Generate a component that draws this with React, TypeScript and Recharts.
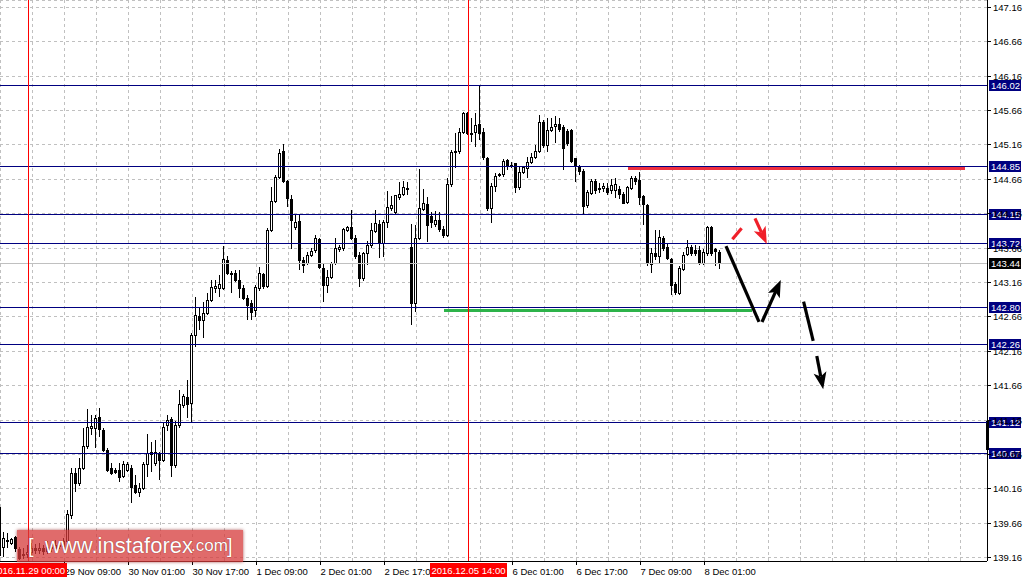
import { ComposedChart, Bar, XAxis, YAxis, CartesianGrid, ReferenceLine, ReferenceArea } from "recharts";

const FONT = "'Liberation Sans', Arial, sans-serif";
const Y_MIN = 139.112;
const Y_MAX = 147.266;
const X_MAX = 246.75;

// hourly USDJPY candles, index 0 = 28 Nov 17:00
const opens = [
  139.90, 139.31, 139.40, 139.37, 139.46, 139.28, 139.20, 139.22, 139.25, 139.30, 139.27, 139.30, 139.26, 139.32, 139.30, 139.35,
  139.33, 139.40, 139.78, 140.39, 140.24, 140.47, 140.78, 141.05, 141.04, 141.20, 141.02, 140.73, 140.46, 140.43, 140.43, 140.35,
  140.43, 140.46, 140.22, 140.12, 140.17, 140.52, 140.70, 140.54, 140.68, 140.58, 141.09, 141.17, 140.51, 141.09, 141.38, 141.50,
  141.41, 142.40, 142.67, 142.62, 142.72, 142.91, 143.08, 143.08, 143.08, 143.49, 143.30, 143.30, 143.20, 143.08, 142.93, 142.86,
  142.76, 143.08, 143.28, 143.11, 143.92, 144.34, 144.69, 145.07, 144.64, 144.37, 143.97, 144.05, 143.49, 143.44, 143.56, 143.63,
  143.79, 143.37, 143.12, 143.24, 143.44, 143.65, 143.66, 143.93, 143.96, 143.80, 143.56, 143.22, 143.59, 143.70, 143.91, 144.01,
  143.74, 144.04, 144.25, 144.18, 144.40, 144.45, 144.53, 143.68, 142.86, 143.81, 144.23, 144.30, 144.13, 144.01, 144.07, 143.94,
  143.85, 144.59, 145.05, 145.07, 145.35, 145.62, 145.33, 145.35, 145.46, 145.35, 144.97, 144.24, 144.56, 144.72, 144.74, 144.94,
  144.86, 144.90, 144.55, 144.77, 144.82, 144.91, 144.98, 145.07, 145.49, 145.16, 145.38, 145.43, 145.46, 145.42, 145.36, 145.38,
  144.97, 144.84, 144.78, 144.29, 144.46, 144.64, 144.53, 144.53, 144.53, 144.50, 144.50, 144.52, 144.45, 144.33, 144.53, 144.68,
  144.65, 144.42, 144.29, 143.43, 143.59, 143.54, 143.81, 143.67, 143.50, 143.14, 143.01, 143.36, 143.57, 143.67, 143.63, 143.63,
  143.44, 143.59, 143.97, 143.64, 143.60,
];
const highs = [
  139.95, 139.53, 139.52, 139.45, 139.48, 139.32, 139.30, 139.35, 139.38, 139.36, 139.37, 139.34, 139.40, 139.38, 139.42, 139.40,
  139.45, 139.85, 140.47, 140.47, 140.61, 141.04, 141.32, 141.23, 141.23, 141.33, 141.05, 140.76, 140.54, 140.47, 140.53, 140.56,
  140.55, 140.51, 140.36, 140.24, 140.55, 140.96, 140.84, 140.87, 140.69, 141.12, 141.23, 141.20, 141.14, 141.60, 141.54, 141.74,
  142.43, 142.95, 142.80, 142.88, 143.01, 143.20, 143.20, 143.27, 143.69, 143.54, 143.33, 143.34, 143.34, 143.12, 142.98, 142.91,
  143.12, 143.38, 143.30, 143.95, 144.55, 144.72, 145.10, 145.17, 144.65, 144.43, 144.16, 144.14, 143.53, 143.60, 143.66, 143.85,
  143.81, 143.44, 143.34, 143.46, 143.81, 143.70, 143.95, 143.98, 144.21, 143.85, 143.60, 143.60, 143.76, 144.02, 144.21, 144.07,
  144.07, 144.49, 144.42, 144.43, 144.62, 144.63, 144.62, 144.01, 143.99, 144.81, 144.52, 144.40, 144.18, 144.20, 144.19, 143.98,
  144.68, 145.09, 145.33, 145.40, 145.64, 145.64, 145.55, 145.62, 146.01, 145.40, 144.98, 144.61, 144.75, 144.75, 144.96, 144.96,
  144.91, 144.90, 144.85, 144.85, 144.98, 145.04, 145.16, 145.59, 145.52, 145.55, 145.55, 145.58, 145.55, 145.45, 145.39, 145.39,
  144.97, 144.87, 144.81, 144.50, 144.67, 144.67, 144.60, 144.60, 144.60, 144.67, 144.68, 144.56, 144.47, 144.56, 144.71, 144.71,
  144.77, 144.43, 144.30, 143.66, 143.92, 143.92, 143.84, 143.73, 143.51, 143.17, 143.40, 143.60, 143.78, 143.70, 143.70, 143.69,
  143.64, 143.98, 143.98, 143.66, 143.63,
];
const lows = [
  139.15, 139.17, 139.30, 139.34, 139.25, 139.12, 139.14, 139.15, 139.20, 139.21, 139.22, 139.20, 139.22, 139.24, 139.26, 139.28,
  139.28, 139.30, 139.72, 140.11, 140.20, 140.44, 140.74, 140.95, 140.75, 140.91, 140.70, 140.40, 140.36, 140.38, 140.26, 140.32,
  140.40, 139.96, 140.08, 140.04, 140.14, 140.33, 140.41, 140.50, 140.29, 140.55, 141.00, 140.33, 140.46, 141.05, 141.34, 141.19,
  141.13, 142.22, 142.47, 142.35, 142.69, 142.88, 143.01, 142.95, 143.05, 143.27, 143.01, 143.16, 142.93, 142.90, 142.62, 142.61,
  142.66, 143.04, 143.07, 143.08, 143.89, 144.31, 144.66, 144.61, 144.26, 143.65, 143.92, 143.34, 143.30, 143.41, 143.53, 143.59,
  143.35, 142.88, 143.01, 143.21, 143.41, 143.60, 143.62, 143.90, 143.78, 143.50, 143.09, 143.18, 143.41, 143.66, 143.88, 143.52,
  143.53, 143.95, 144.20, 144.15, 144.36, 144.42, 144.43, 142.54, 142.73, 143.78, 144.20, 143.75, 143.95, 143.97, 143.90, 143.81,
  143.82, 144.55, 144.82, 145.03, 145.32, 145.30, 145.20, 145.13, 145.23, 144.94, 144.20, 144.02, 144.47, 144.69, 144.70, 144.80,
  144.82, 144.46, 144.50, 144.74, 144.68, 144.88, 144.95, 145.04, 145.12, 145.06, 145.35, 145.19, 145.35, 144.80, 145.14, 144.90,
  144.62, 144.72, 144.14, 144.25, 144.43, 144.44, 144.46, 144.48, 144.43, 144.44, 144.39, 144.38, 144.30, 144.30, 144.50, 144.58,
  144.29, 144.00, 143.40, 143.30, 143.49, 143.44, 143.62, 143.48, 142.98, 142.98, 142.98, 143.33, 143.54, 143.55, 143.55, 143.41,
  143.41, 143.55, 143.55, 143.40, 143.36,
];
const closes = [
  139.20, 139.45, 139.42, 139.43, 139.30, 139.16, 139.22, 139.25, 139.30, 139.27, 139.30, 139.26, 139.32, 139.30, 139.35, 139.33,
  139.40, 139.80, 140.39, 140.24, 140.47, 140.78, 141.06, 141.07, 141.19, 141.03, 140.73, 140.43, 140.39, 140.41, 140.33, 140.52,
  140.52, 140.19, 140.12, 140.17, 140.52, 140.68, 140.67, 140.70, 140.58, 141.06, 141.16, 140.51, 141.09, 141.39, 141.51, 141.39,
  142.40, 142.69, 142.62, 142.72, 142.91, 143.10, 143.11, 143.14, 143.50, 143.30, 143.28, 143.20, 143.08, 142.93, 142.83, 142.73,
  143.09, 143.30, 143.11, 143.92, 144.34, 144.69, 145.04, 144.64, 144.39, 144.07, 144.04, 143.49, 143.41, 143.56, 143.62, 143.81,
  143.38, 143.12, 143.24, 143.44, 143.66, 143.68, 143.94, 143.96, 143.80, 143.54, 143.22, 143.59, 143.70, 143.92, 144.02, 143.73,
  144.04, 144.26, 144.29, 144.43, 144.45, 144.55, 144.52, 142.86, 143.81, 144.24, 144.32, 144.00, 144.04, 144.07, 143.94, 143.85,
  144.59, 145.06, 145.07, 145.35, 145.62, 145.33, 145.32, 145.45, 145.33, 144.98, 144.24, 144.56, 144.71, 144.74, 144.93, 144.85,
  144.87, 144.55, 144.77, 144.84, 144.91, 144.98, 145.07, 145.49, 145.16, 145.38, 145.42, 145.47, 145.39, 145.12, 145.19, 144.93,
  144.85, 144.78, 144.27, 144.47, 144.64, 144.50, 144.52, 144.56, 144.47, 144.58, 144.59, 144.45, 144.32, 144.55, 144.68, 144.63,
  144.40, 144.30, 143.44, 143.59, 143.54, 143.82, 143.66, 143.52, 143.12, 143.02, 143.37, 143.56, 143.67, 143.59, 143.59, 143.44,
  143.60, 143.97, 143.59, 143.62, 143.44,
];

const priceTicks = [139.16, 139.66, 140.16, 140.66, 141.16, 141.66, 142.16, 142.66, 143.16, 143.66, 144.16, 144.66, 145.16, 145.66, 146.16, 146.66, 147.16];
const gridHours = [0, 8, 16, 24, 32, 40, 48, 56, 64, 72, 80, 88, 96, 104, 112, 120, 128, 136, 144, 152, 160, 168, 176, 184, 192, 200, 208, 216, 224, 232, 240];
const labelHours = [16, 32, 48, 64, 80, 96, 128, 144, 160, 176];
const labelTexts = ["29 Nov 09:00", "30 Nov 01:00", "30 Nov 17:00", "1 Dec 09:00", "2 Dec 01:00", "2 Dec 17:00", "6 Dec 01:00", "6 Dec 17:00", "7 Dec 09:00", "8 Dec 01:00"];
const markerHours = [7, 117];
const markerTexts = ["2016.11.29 00:00", "2016.12.05 14:00"];

const levels = [146.02, 144.85, 144.15, 143.72, 142.8, 142.26, 141.12, 140.67];
const lastPrice = 143.44;
const support = { from: 111, to: 188, price: 142.76 };
const resistance = { from: 157, to: 241.25, price: 144.815 };

// forecast arrows: [x1, y1, x2, y2, head]
const blackArrows: [number, number, number, number, boolean][] = [
  [181.5, 143.69, 189.75, 142.586, false],
  [190.5, 142.586, 195.2, 143.196, true],
  [200.9, 142.881, 203.3, 142.31, false],
  [204.2, 142.092, 205.8, 141.608, true],
];
const redArrows: [number, number, number, number, boolean][] = [
  [183.1, 143.788, 185.4, 143.948, false],
  [188.75, 144.093, 191.7, 143.72, true],
];

const candles = opens.map((o, i) => ({ i, o, h: highs[i], l: lows[i], c: closes[i], range: [lows[i], highs[i]] }));

function Candle(props: any) {
  const { x, y, width, height, payload } = props;
  if (payload == null || x == null) return null;
  const { o, h, l, c } = payload;
  const y0 = Math.min(y, y + height);
  const hh = Math.abs(height);
  const k = h > l ? hh / (h - l) : 0;
  const cx = Math.floor(x + width / 2) + 0.5;
  const top = Math.round(y0 + (h - Math.max(o, c)) * k);
  const bot = Math.round(y0 + (h - Math.min(o, c)) * k);
  const up = c >= o;
  return (
    <g>
      <line x1={cx} x2={cx} y1={y0} y2={y0 + hh} stroke="#000" />
      {bot - top < 1 ? (
        <line x1={cx - 1.5} x2={cx + 1.5} y1={top + 0.5} y2={top + 0.5} stroke="#000" />
      ) : (
        <rect x={cx - 1} y={top + 0.5} width={2} height={bot - top} fill={up ? "#fff" : "#000"} stroke="#000" />
      )}
    </g>
  );
}

function TimeTick(props: any) {
  const { x, y, payload } = props;
  const v = payload.value;
  const m = markerHours.indexOf(v);
  if (m >= 0) {
    return (
      <g>
        <rect x={x - 38} y={y + 2} width={77} height={14} fill="#ff0000" />
        <text x={x + 0.5} y={y + 13} textAnchor="middle" fill="#fff" fontSize={9.5} fontFamily={FONT}>{markerTexts[m]}</text>
      </g>
    );
  }
  const li = labelHours.indexOf(v);
  if (li < 0) return <g />;
  return (
    <g>
      <line x1={x + 0.5} x2={x + 0.5} y1={y} y2={y + 4} stroke="#000" />
      <text x={x + 0.5} y={y + 13.5} fill="#000" fontSize={9.5} fontFamily={FONT}>{labelTexts[li]}</text>
    </g>
  );
}

function PriceTick(props: any) {
  const { x, y, payload } = props;
  return (
    <g>
      <line x1={x} x2={x + 4} y1={y} y2={y} stroke="#000" />
      <text x={x + 6} y={y + 3.5} fill="#000" fontSize={9.5} fontFamily={FONT}>{Number(payload.value).toFixed(2)}</text>
    </g>
  );
}

const tag = (text: string, bg: string) => (p: any) => {
  const vb = p.viewBox;
  const x = vb.x + vb.width + 2;
  const y = vb.y;
  return (
    <g>
      <rect x={x} y={y - 5.5} width={32} height={11} fill={bg} />
      <text x={x + 2} y={y + 3.5} fill="#fff" fontSize={9.5} fontFamily={FONT}>{text}</text>
    </g>
  );
};

const arrowShape = (color: string, head: boolean) => (p: any) => {
  const { x1, y1, x2, y2 } = p;
  const dx = x2 - x1;
  const dy = y2 - y1;
  const len = Math.hypot(dx, dy) || 1;
  const ux = dx / len;
  const uy = dy / len;
  const hl = 17;
  const hw = 6.5;
  const bx = x2 - ux * hl;
  const by = y2 - uy * hl;
  return (
    <g style={{ shapeRendering: "auto" }}>
      <line x1={x1} y1={y1} x2={head ? bx + ux * 4 : x2} y2={head ? by + uy * 4 : y2} stroke={color} strokeWidth={3.2} />
      {head && (
        <polygon
          points={`${x2},${y2} ${bx - uy * hw},${by + ux * hw} ${bx + ux * 4},${by + uy * 4} ${bx + uy * hw},${by - ux * hw}`}
          fill={color}
        />
      )}
    </g>
  );
};

export default function App() {
  return (
    <div style={{ position: "absolute", left: 0, top: 0, width: 1027, height: 581, background: "#fff", shapeRendering: "crispEdges" }}>
      <ComposedChart width={1027} height={581} data={candles} margin={{ top: 0, right: 0, bottom: 0, left: 0 }}>
        <CartesianGrid stroke="#c0c0c0" strokeDasharray="3 3" />
        <XAxis
          type="number"
          dataKey="i"
          domain={[0, X_MAX]}
          allowDataOverflow
          ticks={[...gridHours, ...markerHours]}
          interval={0}
          height={20}
          tickSize={0}
          tickMargin={0}
          tick={<TimeTick />}
          axisLine={{ stroke: "#000" }}
          tickLine={false}
        />
        <YAxis
          orientation="right"
          domain={[Y_MIN, Y_MAX]}
          allowDataOverflow
          ticks={priceTicks}
          interval={0}
          width={40}
          tickSize={0}
          tickMargin={0}
          tick={<PriceTick />}
          axisLine={{ stroke: "#000" }}
          tickLine={false}
        />
        <Bar dataKey="range" barSize={3} shape={Candle} isAnimationActive={false} />
        <ReferenceLine y={lastPrice} stroke="#c0c0c0" label={tag(lastPrice.toFixed(2), "#000")} />
        <ReferenceLine segment={[{ x: resistance.from, y: resistance.price }, { x: resistance.to, y: resistance.price }]} stroke="#ee3040" strokeWidth={3} />
        <ReferenceLine segment={[{ x: support.from, y: support.price }, { x: support.to, y: support.price }]} stroke="#2db34a" strokeWidth={3} />
        {levels.map((v) => (
          <ReferenceLine key={v} y={v} stroke="#000080" label={tag(v.toFixed(2), "#000080")} />
        ))}
        {markerHours.map((h) => (
          <ReferenceLine key={h} x={h} stroke="#ff0000" />
        ))}
        <ReferenceArea x1={246.5} x2={247.25} y1={140.72} y2={141.15} fill="#000" fillOpacity={1} stroke="none" ifOverflow="visible" />
        {blackArrows.map((a, n) => (
          <ReferenceLine key={"b" + n} segment={[{ x: a[0], y: a[1] }, { x: a[2], y: a[3] }]} shape={arrowShape("#000", a[4])} />
        ))}
        {redArrows.map((a, n) => (
          <ReferenceLine key={"r" + n} segment={[{ x: a[0], y: a[1] }, { x: a[2], y: a[3] }]} shape={arrowShape("#f0202a", a[4])} />
        ))}
      </ComposedChart>
      <div
        style={{
          position: "absolute",
          left: 17,
          top: 530,
          width: 226,
          height: 32,
          background: "rgba(214, 58, 58, 0.75)",
          boxShadow: "0 0 3px rgba(140, 20, 20, 0.7)",
          color: "#fff",
          fontFamily: FONT,
          whiteSpace: "nowrap",
          lineHeight: "32px",
          textShadow: "0 0 1px rgba(90, 0, 0, 0.8)",
        }}
      >
        <span style={{ position: "absolute", left: 11, fontSize: 20 }}>[</span>
        <span style={{ position: "absolute", left: 28, fontSize: 22 }}>www.instaforex</span>
        <span style={{ position: "absolute", left: 174, fontSize: 17 }}>.com</span>
        <span style={{ position: "absolute", left: 210, fontSize: 20 }}>]</span>
      </div>
    </div>
  );
}
